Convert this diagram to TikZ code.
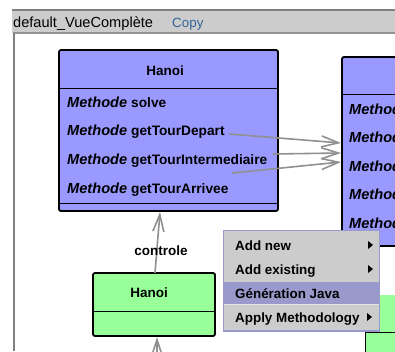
\documentclass[tikz,border=0pt]{standalone}
\usepackage{fontspec}
\setmainfont{Liberation Sans}
\usetikzlibrary{arrows.meta}
\definecolor{umlblue}{HTML}{9999FF}
\definecolor{umlgreen}{HTML}{99FF99}
\definecolor{barGrey}{HTML}{CCCCCC}
\definecolor{frameGrey}{HTML}{808080}
\definecolor{menuHi}{HTML}{9999CC}
\definecolor{linkBlue}{HTML}{336699}
\definecolor{arrowGrey}{HTML}{909090}
\tikzset{
  umlbox/.style={draw=black,line width=1.8pt,rounded corners=2pt},
  divider/.style={draw=black,line width=1pt},
  txt/.style={inner sep=0pt,anchor=base west,font=\fontsize{13.7pt}{15pt}\selectfont\bfseries,text=black},
  ctxt/.style={inner sep=0pt,anchor=base,font=\fontsize{13.5pt}{15pt}\selectfont\bfseries,text=black},
  kw/.style={txt,font=\fontsize{14.6pt}{15pt}\selectfont\bfseries\itshape},
  assoc/.style={draw=arrowGrey,line width=1.6pt,-{Straight Barb[length=17pt,width=11pt,line width=1.6pt]}},
  mitem/.style={txt,font=\fontsize{13.4pt}{15pt}\selectfont\bfseries},
  head/.style={inner sep=0pt,anchor=base west,font=\fontsize{14.6pt}{15pt}\selectfont,text=black}
}
\begin{document}
\begin{tikzpicture}[x=1pt,y=-1pt]
\useasboundingbox (0,0) rectangle (395,351);
\clip (0,0) rectangle (395,351);
\fill[white] (0,0) rectangle (395,351);
% window frame
\fill[barGrey] (12,10) rectangle (395,33);
\draw[frameGrey,line width=2pt] (12,10) -- (395,10);
\draw[frameGrey!85,line width=1.2pt] (13,33) -- (395,33);
\draw[frameGrey,line width=2pt] (13.5,33) -- (13.5,351);
\node[head] (title) at (13,27) {default\_VueComplète};
\node[head,font=\fontsize{13.4pt}{15pt}\selectfont,text=linkBlue] (copy) at (172,27) {Copy};
% main blue class
\draw[umlbox,fill=umlblue] (59,50) rectangle (278,211);
\draw[divider] (59,88) -- (278,88);
\draw[divider] (59,203) -- (278,203);
\node[ctxt] (h1) at (165,75) {Hanoi};
\node[kw] (m1) at (67,107) {Methode};
\node[txt] (n1) at (131,107) {solve};
\node[kw] (m2) at (67,135) {Methode};
\node[txt] (n2) at (131,135) {getTourDepart};
\node[kw] (m3) at (67,164) {Methode};
\node[txt] (n3) at (131,164) {getTourIntermediaire};
\node[kw] (m4) at (67,193) {Methode};
\node[txt] (n4) at (131,193) {getTourArrivee};
% right blue class
\draw[umlbox,fill=umlblue] (342,57) rectangle (420,246);
\draw[divider] (342,94) -- (395,94);
\node[kw] (r1) at (349,114) {Methode};
\node[kw] (r2) at (349,142) {Methode};
\node[kw] (r3) at (349,171) {Methode};
\node[kw] (r4) at (349,199) {Methode};
\node[kw] (r5) at (349,228) {Methode};
% right green class
\fill[umlgreen] (370,295) rectangle (395,351);
\draw[draw=black,line width=1.2pt,fill=umlgreen] (365.5,332.5) rectangle (400,360);
% left green class
\draw[umlbox,fill=umlgreen] (93,273) rectangle (215,336);
\draw[divider] (93,311) -- (215,311);
\node[ctxt] (h2) at (149,297) {Hanoi};
% connectors
\coordinate (a1s) at (229,134); \coordinate (a1t) at (341,143);
\coordinate (a2s) at (273,154); \coordinate (a2t) at (341,153);
\coordinate (a3s) at (232,173); \coordinate (a3t) at (341,162);
\coordinate (c1s) at (155,273); \coordinate (c1t) at (160,212);
\coordinate (c2s) at (157,370); \coordinate (c2t) at (157,337);
\draw[assoc] (a1s) -- (a1t);
\draw[assoc] (a2s) -- (a2t);
\draw[assoc] (a3s) -- (a3t);
\draw[assoc] (c1s) -- (c1t);
\draw[assoc] (c2s) -- (c2t);
\node[ctxt] (lab) at (161,255) {controle};
% popup menu
\fill[barGrey] (223.5,230.5) rectangle (379,331);
\fill[menuHi] (224,282) rectangle (379,304);
\draw[white!90!black,line width=.8pt] (224,304.6) -- (379,304.6);
\draw[menuHi,line width=1.2pt] (223.5,230.5) rectangle (379.5,331);
\node[mitem] (i1) at (235,250) {Add new};
\node[mitem] (i2) at (235,274) {Add existing};
\node[mitem] (i3) at (235,298) {Génération Java};
\node[mitem] (i4) at (235,322) {Apply Methodology};
\fill[black] (368,241) -- (373,245) -- (368,249) -- cycle;
\fill[black] (368,265) -- (373,269) -- (368,273) -- cycle;
\fill[black] (367,313) -- (372,317) -- (367,321) -- cycle;
\end{tikzpicture}
\end{document}
